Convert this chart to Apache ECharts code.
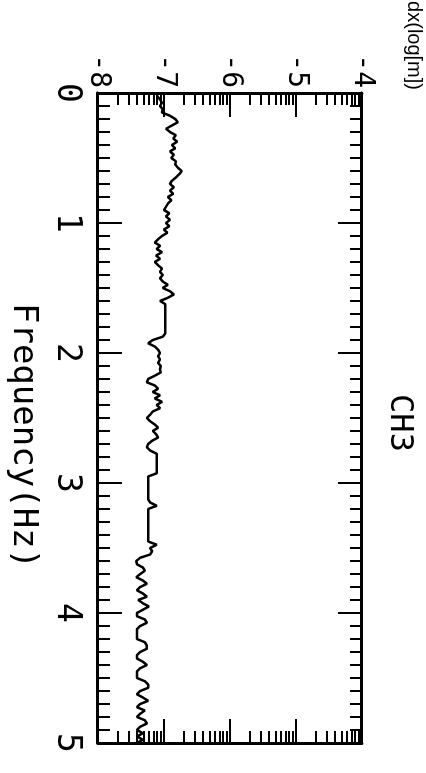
<!DOCTYPE html>
<html>
<head>
<meta charset="utf-8">
<script src="https://cdn.jsdelivr.net/npm/echarts@6/dist/echarts.min.js"></script>
<style>
html,body{margin:0;padding:0;background:#fff;overflow:hidden;width:426px;height:773px;}
#wrap{position:absolute;left:0;top:0;width:773px;height:426px;transform-origin:0 0;transform:translate(426px,0) rotate(90deg);}
</style>
</head>
<body>
<div id="wrap"></div>
<script>
// Frequency (Hz)
var freqHz = [0,0.025,0.05,0.075,0.1,0.125,0.15,0.175,0.2,0.225,0.25,0.275,0.3,0.325,0.35,0.375,0.4,0.425,0.45,0.475,
0.5,0.525,0.55,0.575,0.6,0.625,0.65,0.675,0.7,0.725,0.75,0.775,0.8,0.825,0.85,0.875,0.9,0.925,0.95,0.975,
1,1.025,1.05,1.075,1.1,1.125,1.15,1.175,1.2,1.225,1.25,1.275,1.3,1.325,1.35,1.375,1.4,1.425,1.45,1.475,
1.5,1.525,1.55,1.575,1.6,1.625,1.65,1.675,1.7,1.725,1.75,1.775,1.8,1.825,1.85,1.875,1.9,1.925,1.95,1.975,
2,2.025,2.05,2.075,2.1,2.125,2.15,2.175,2.2,2.225,2.25,2.275,2.3,2.325,2.35,2.375,2.4,2.425,2.45,2.475,
2.5,2.525,2.55,2.575,2.6,2.625,2.65,2.675,2.7,2.725,2.75,2.775,2.8,2.825,2.85,2.875,2.9,2.925,2.95,2.975,
3,3.025,3.05,3.075,3.1,3.125,3.15,3.175,3.2,3.225,3.25,3.275,3.3,3.325,3.35,3.375,3.4,3.425,3.45,3.475,
3.5,3.525,3.55,3.575,3.6,3.625,3.65,3.675,3.7,3.725,3.75,3.775,3.8,3.825,3.85,3.875,3.9,3.925,3.95,3.975,
4,4.025,4.05,4.075,4.1,4.125,4.15,4.175,4.2,4.225,4.25,4.275,4.3,4.325,4.35,4.375,4.4,4.425,4.45,4.475,
4.5,4.525,4.55,4.575,4.6,4.625,4.65,4.675,4.7,4.725,4.75,4.775,4.8,4.825,4.85,4.875,4.9,4.925,4.95,4.975,
5];
// dx (log[m])
var dxLog = [-7.11,-7.10,-7.06,-7.03,-7.06,-7.02,-7.03,-6.91,-6.83,-6.79,-6.88,-6.97,-6.91,-6.82,-6.86,-6.80,-6.88,-6.83,-6.91,-6.85,
-6.89,-6.82,-6.83,-6.79,-6.73,-6.77,-6.82,-6.88,-6.91,-6.85,-6.91,-6.86,-6.94,-6.89,-6.94,-6.97,-7.00,-6.92,-6.97,-6.91,
-6.97,-6.92,-7.00,-6.95,-7.03,-7.09,-7.14,-7.06,-7.11,-7.03,-7.12,-7.06,-7.14,-7.09,-7.03,-7.06,-7.02,-7.06,-7.02,-6.94,
-7.02,-6.91,-6.85,-6.94,-7.06,-6.98,-6.98,-6.98,-6.98,-6.98,-6.98,-6.98,-6.98,-6.98,-6.98,-7.02,-7.17,-7.24,-7.14,-7.09,
-7.06,-7.09,-7.06,-7.09,-7.05,-7.06,-7.05,-7.14,-7.24,-7.26,-7.14,-7.09,-7.17,-7.06,-7.14,-7.03,-7.11,-7.06,-7.17,-7.21,
-7.26,-7.21,-7.14,-7.09,-7.17,-7.12,-7.09,-7.18,-7.24,-7.26,-7.21,-7.11,-7.11,-7.11,-7.11,-7.11,-7.11,-7.11,-7.24,-7.24,
-7.24,-7.24,-7.24,-7.24,-7.24,-7.24,-7.21,-7.11,-7.24,-7.24,-7.24,-7.24,-7.24,-7.24,-7.24,-7.24,-7.24,-7.24,-7.24,-7.11,
-7.21,-7.18,-7.21,-7.36,-7.42,-7.41,-7.32,-7.29,-7.36,-7.42,-7.32,-7.26,-7.36,-7.41,-7.32,-7.26,-7.39,-7.32,-7.23,-7.32,
-7.41,-7.41,-7.29,-7.26,-7.36,-7.41,-7.41,-7.41,-7.41,-7.29,-7.26,-7.26,-7.36,-7.41,-7.41,-7.32,-7.26,-7.36,-7.41,-7.41,
-7.41,-7.29,-7.24,-7.24,-7.36,-7.41,-7.32,-7.24,-7.36,-7.41,-7.29,-7.36,-7.41,-7.29,-7.26,-7.36,-7.41,-7.32,-7.41,-7.32,
-7.41];
var freqTicks = [0,1,2,3,4,5];
var dxTicks = [-8,-7,-6,-5,-4];
var titleText = 'CH3';
var xName = 'Frequency(Hz)';
var yName = 'dx(log[m])';

// log-decade minor tick positions (axis decoration)
var dxMinor = [];
for (var d = -8; d < -4; d++) for (var k = 2; k <= 9; k++) dxMinor.push(d + Math.log10(k));

var MONO = '"DejaVu Sans Mono","Liberation Mono",monospace';
var SANS = '"Liberation Sans",Arial,sans-serif';
var black = '#000';
var lineW = 3;

function freqAxis(pos, labels) {
  return {
    type: 'value', position: pos, min: 0, max: 5, interval: 1,
    axisLine: { show: true, onZero: false, lineStyle: { color: black, width: lineW } },
    axisTick: { show: true, inside: true, length: 24, lineStyle: { color: black, width: 2 } },
    minorTick: { show: true, splitNumber: 10, length: 12, lineStyle: { color: black, width: 2 } },
    splitLine: { show: false }, minorSplitLine: { show: false },
    axisLabel: { show: labels, margin: 15, color: black, fontSize: 33, fontFamily: MONO,
      formatter: function (v) { return freqTicks.indexOf(v) >= 0 ? String(v) : ''; } },
    name: labels ? xName : '', nameLocation: 'middle', nameGap: 58,
    nameTextStyle: { color: black, fontSize: 34, fontFamily: MONO, padding: [0, 0, 0, 36] }
  };
}
function dxAxis(pos, labels, minor) {
  var a = {
    type: 'value', position: pos, min: -8, max: -4, interval: 1,
    axisLine: { show: !minor, onZero: false, lineStyle: { color: black, width: lineW } },
    splitLine: { show: false },
    axisLabel: { show: labels && !minor, margin: 5, color: black, fontSize: 28, fontFamily: MONO,
      formatter: function (v) { return dxTicks.indexOf(v) >= 0 ? String(v) : ''; } }
  };
  if (minor) {
    a.axisTick = { show: true, inside: true, length: 12, customValues: dxMinor, lineStyle: { color: black, width: 2 } };
    a.axisLabel = { show: false, customValues: dxMinor };
  } else {
    a.axisTick = { show: true, inside: true, length: 24, lineStyle: { color: black, width: 2 } };
  }
  if (labels && !minor) {
    a.name = yName; a.nameLocation = 'end'; a.nameGap = 42;
    a.nameTextStyle = { color: black, fontSize: 20, fontFamily: SANS, align: 'right', padding: [0, 3, 0, 0] };
  }
  return a;
}

var chart = echarts.init(document.getElementById('wrap'), null, { renderer: 'canvas' });
var pts = freqHz.map(function (f, i) { return [f, dxLog[i]]; });
chart.setOption({
  animation: false,
  backgroundColor: '#fff',
  title: { text: titleText, left: 418, top: 6, textAlign: 'center',
    textStyle: { color: black, fontSize: 32, fontWeight: 'normal', fontFamily: MONO } },
  grid: { left: 93, right: 30, top: 64, bottom: 98, containLabel: false, outerBoundsMode: 'none' },
  xAxis: [freqAxis('bottom', true), freqAxis('top', false)],
  yAxis: [dxAxis('left', true, false), dxAxis('left', false, true), dxAxis('right', false, false), dxAxis('right', false, true)],
  series: [{
    type: 'line', xAxisIndex: 0, yAxisIndex: 0, data: pts, showSymbol: false, symbol: 'none',
    lineStyle: { color: black, width: 2.5 }, z: 3
  }]
});
</script>
</body>
</html>
